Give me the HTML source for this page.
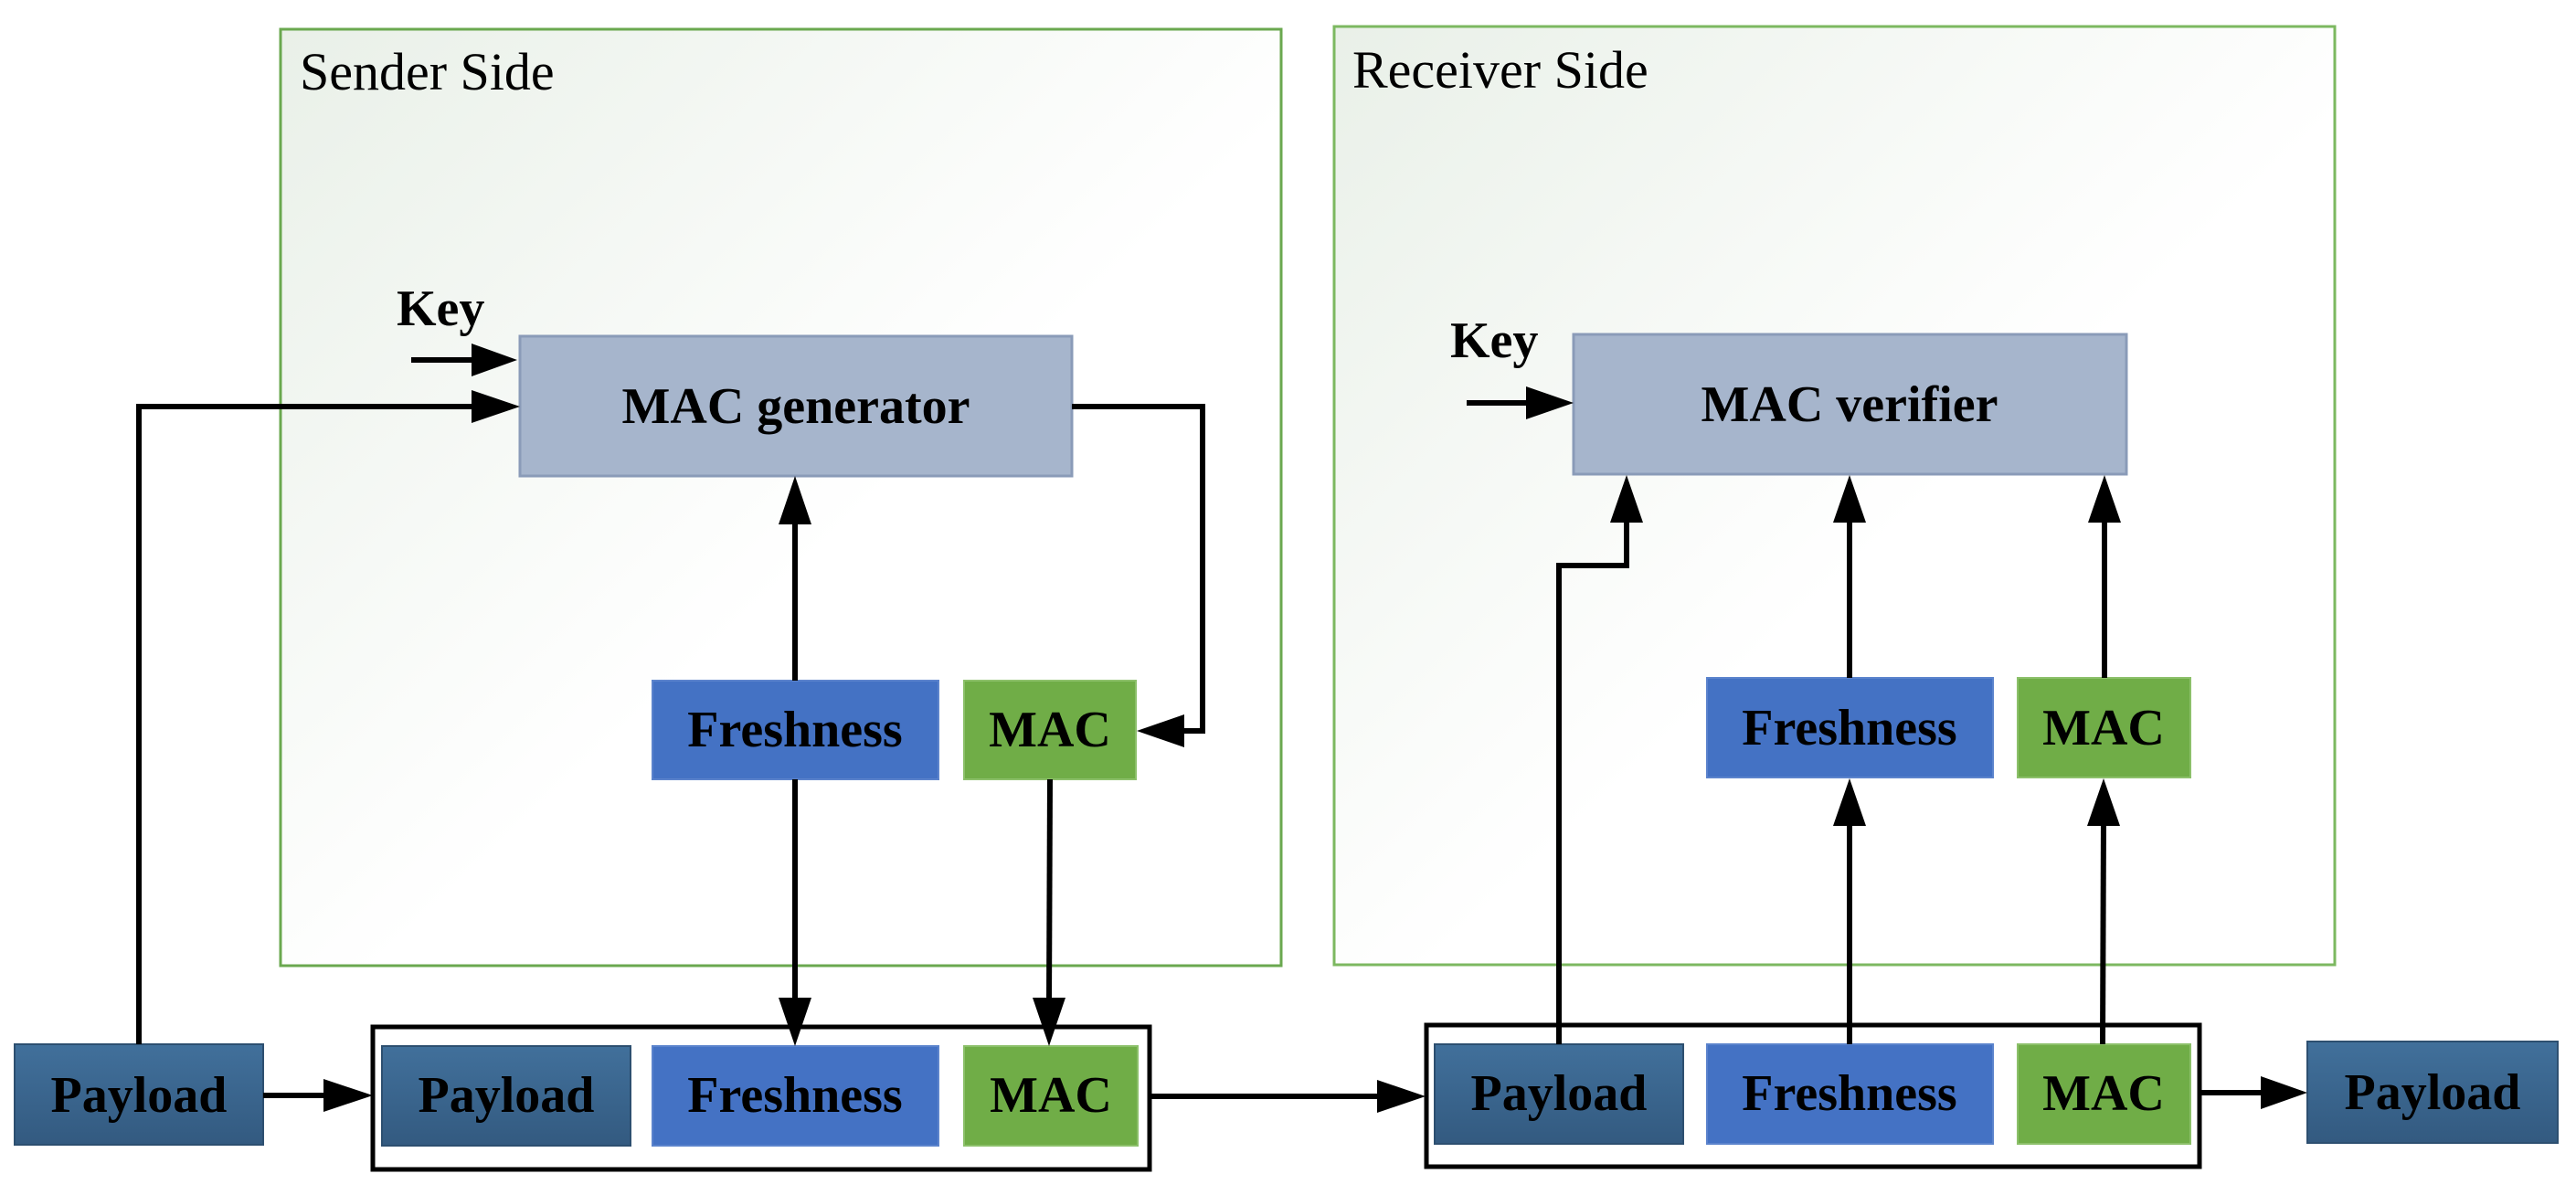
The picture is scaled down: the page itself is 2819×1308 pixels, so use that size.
<!DOCTYPE html>
<html><head><meta charset="utf-8"><style>
html,body{margin:0;padding:0;background:#fff}
svg{display:block}
text{font-family:"Liberation Serif",serif}
.b{font-weight:bold;font-size:56px}
</style></head><body>
<svg width="2819" height="1308" viewBox="0 0 2819 1308" xmlns="http://www.w3.org/2000/svg">
<defs>
<linearGradient id="bg" x1="0" y1="0" x2="1" y2="1">
<stop offset="0" stop-color="#e9f0e8"/><stop offset="0.55" stop-color="#ffffff"/><stop offset="1" stop-color="#ffffff"/>
</linearGradient>
<linearGradient id="pl" x1="0" y1="0" x2="0" y2="1">
<stop offset="0" stop-color="#41709b"/><stop offset="1" stop-color="#335a80"/>
</linearGradient>
<marker id="ah" markerWidth="10" markerHeight="8" refX="10" refY="4" orient="auto" markerUnits="userSpaceOnUse" viewBox="0 0 10 8">
</marker>
</defs>
<!-- side boxes -->
<rect x="307" y="32" width="1095" height="1025" fill="url(#bg)" stroke="#6aa84f" stroke-width="3"/>
<rect x="1460" y="29" width="1095" height="1027" fill="url(#bg)" stroke="#7cb860" stroke-width="3"/>
<text x="328" y="98" font-size="58">Sender Side</text>
<text x="1480" y="96" font-size="58">Receiver Side</text>

<!-- MAC generator -->
<rect x="569" y="368" width="604" height="153" fill="#a6b5cc" stroke="#8a9bb8" stroke-width="3"/>
<text class="b" x="871" y="463" text-anchor="middle">MAC generator</text>
<text class="b" x="434" y="356" font-size="54">Key</text>
<!-- MAC verifier -->
<rect x="1722" y="366" width="605" height="153" fill="#a6b5cc" stroke="#8a9bb8" stroke-width="3"/>
<text class="b" x="2024" y="461" text-anchor="middle">MAC verifier</text>
<text class="b" x="1587" y="391" font-size="54">Key</text>

<!-- sender freshness/mac -->
<rect x="714" y="745" width="313" height="108" fill="#4472c4" stroke="#5b83cc" stroke-width="2"/>
<text class="b" x="870" y="817" text-anchor="middle">Freshness</text>
<rect x="1055" y="745" width="188" height="108" fill="#70ad47" stroke="#8cc06a" stroke-width="2"/>
<text class="b" x="1149" y="817" text-anchor="middle">MAC</text>
<!-- receiver freshness/mac -->
<rect x="1868" y="742" width="313" height="109" fill="#4472c4" stroke="#5b83cc" stroke-width="2"/>
<text class="b" x="2024" y="815" text-anchor="middle">Freshness</text>
<rect x="2208" y="742" width="189" height="109" fill="#70ad47" stroke="#8cc06a" stroke-width="2"/>
<text class="b" x="2302" y="815" text-anchor="middle">MAC</text>

<!-- packets -->
<rect x="408" y="1124" width="850" height="156" fill="#fff" stroke="#000" stroke-width="5"/>
<rect x="1561" y="1122" width="846" height="155" fill="#fff" stroke="#000" stroke-width="5"/>

<rect x="16" y="1143" width="272" height="110" fill="url(#pl)" stroke="#2d4f70" stroke-width="2"/>
<text class="b" x="152" y="1217" text-anchor="middle">Payload</text>
<rect x="418" y="1145" width="272" height="109" fill="url(#pl)" stroke="#2d4f70" stroke-width="2"/>
<text class="b" x="554" y="1217" text-anchor="middle">Payload</text>
<rect x="714" y="1145" width="313" height="109" fill="#4472c4" stroke="#5b83cc" stroke-width="2"/>
<text class="b" x="870" y="1217" text-anchor="middle">Freshness</text>
<rect x="1055" y="1145" width="190" height="109" fill="#70ad47" stroke="#8cc06a" stroke-width="2"/>
<text class="b" x="1150" y="1217" text-anchor="middle">MAC</text>

<rect x="1570" y="1143" width="272" height="109" fill="url(#pl)" stroke="#2d4f70" stroke-width="2"/>
<text class="b" x="1706" y="1215" text-anchor="middle">Payload</text>
<rect x="1868" y="1143" width="313" height="109" fill="#4472c4" stroke="#5b83cc" stroke-width="2"/>
<text class="b" x="2024" y="1215" text-anchor="middle">Freshness</text>
<rect x="2208" y="1143" width="189" height="109" fill="#70ad47" stroke="#8cc06a" stroke-width="2"/>
<text class="b" x="2302" y="1215" text-anchor="middle">MAC</text>
<rect x="2525" y="1140" width="274" height="111" fill="url(#pl)" stroke="#2d4f70" stroke-width="2"/>
<text class="b" x="2662" y="1214" text-anchor="middle">Payload</text>

<!-- connectors -->
<g stroke="#000" stroke-width="6" fill="none">
<line x1="450" y1="394" x2="520" y2="394"/>
<polyline points="152,1143 152,445 520,445"/>
<line x1="870" y1="745" x2="870" y2="570"/>
<polyline points="1173,445 1316,445 1316,800 1290,800"/>
<line x1="870" y1="853" x2="870" y2="1100"/>
<line x1="1149" y1="853" x2="1148" y2="1100"/>
<line x1="288" y1="1199" x2="360" y2="1199"/>
<line x1="1258" y1="1200" x2="1510" y2="1200"/>
<line x1="1605" y1="441" x2="1676" y2="441"/>
<polyline points="1706,1143 1706,619 1780,619 1780,568"/>
<line x1="2024" y1="742" x2="2024" y2="568"/>
<line x1="2303" y1="742" x2="2303" y2="568"/>
<line x1="2024" y1="1143" x2="2024" y2="898"/>
<line x1="2301" y1="1143" x2="2302" y2="898"/>
<line x1="2407" y1="1196" x2="2480" y2="1196"/>
</g>
<g fill="#000">
<polygon points="516,376 566,394 516,412"/>
<polygon points="516,427 569,445 516,463"/>
<polygon points="852,574 870,521 888,574"/>
<polygon points="1296,782 1244,800 1296,818"/>
<polygon points="852,1092 870,1145 888,1092"/>
<polygon points="1130,1092 1148,1145 1166,1092"/>
<polygon points="354,1181 408,1199 354,1217"/>
<polygon points="1507,1182 1560,1200 1507,1218"/>
<polygon points="1670,423 1722,441 1670,459"/>
<polygon points="1762,572 1780,520 1798,572"/>
<polygon points="2006,572 2024,520 2042,572"/>
<polygon points="2285,572 2303,520 2321,572"/>
<polygon points="2006,904 2024,852 2042,904"/>
<polygon points="2284,904 2302,852 2320,904"/>
<polygon points="2474,1178 2525,1196 2474,1214"/>
</g>
</svg>
</body></html>
